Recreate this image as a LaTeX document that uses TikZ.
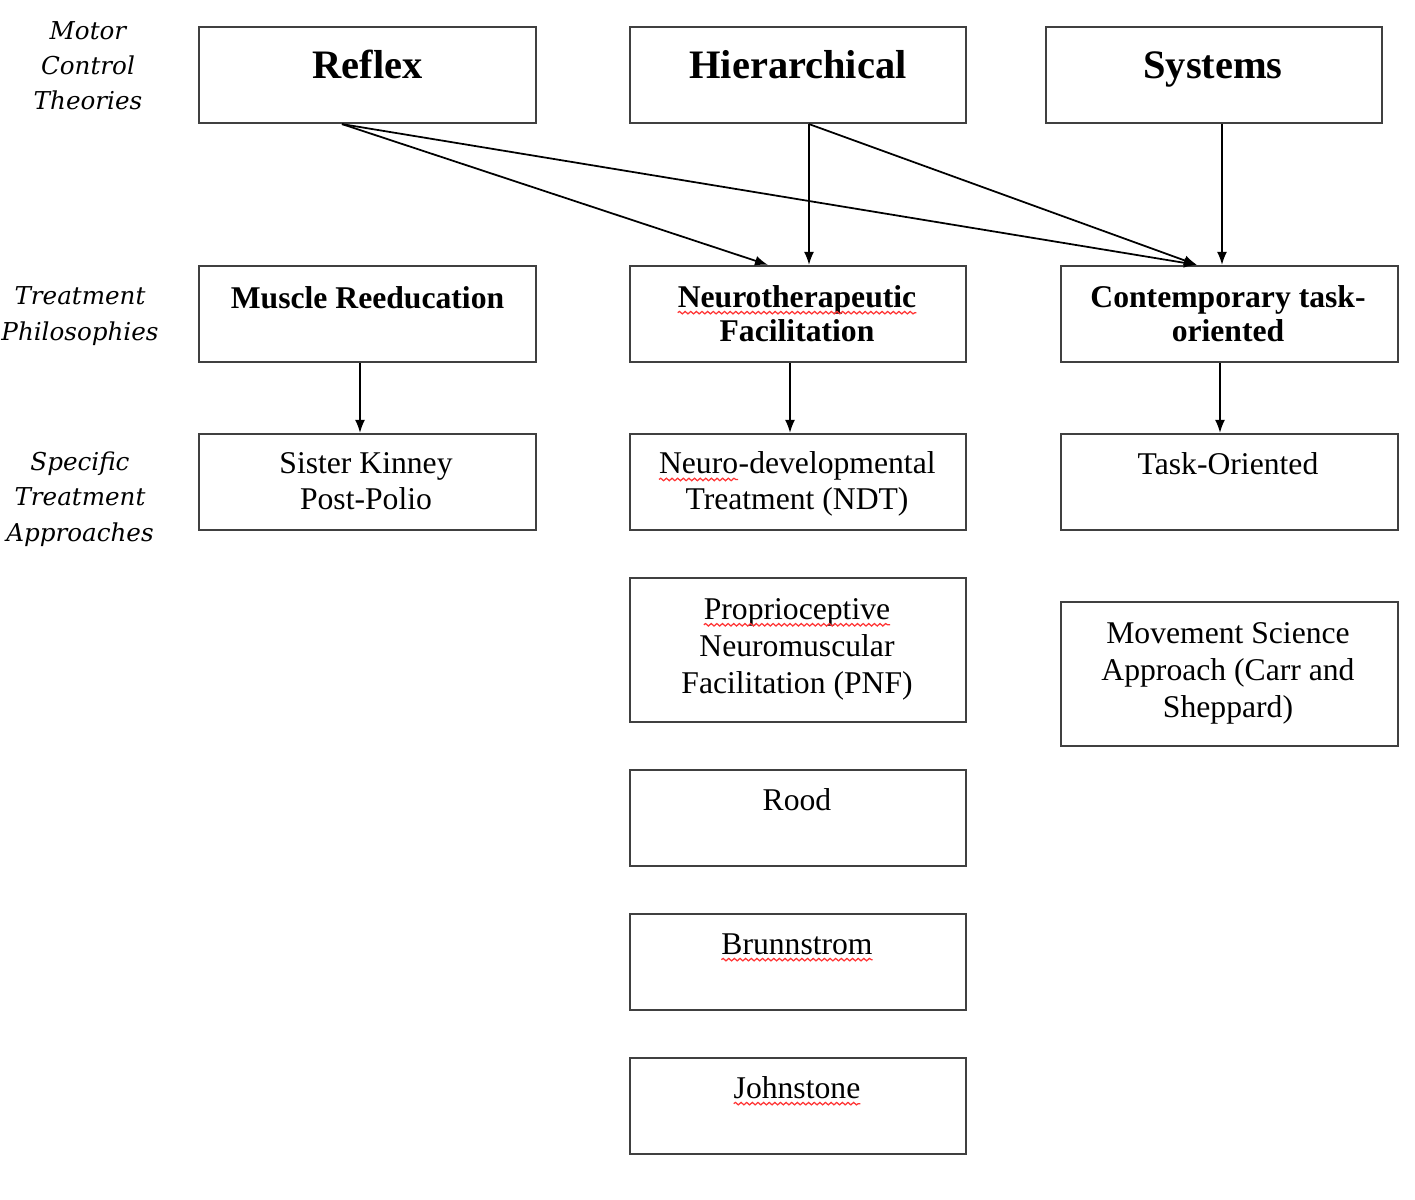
\documentclass[tikz,border=0pt]{standalone}
\usepackage{fontspec}
\usepackage{xcolor}
\setmainfont{Liberation Serif}
\newfontfamily\sidefont{DejaVu Serif}
\usetikzlibrary{arrows.meta,calc,positioning,decorations.pathmorphing}
\tikzset{%
	box/.style      = {draw=black!75, line width=0.6pt, rectangle, minimum width=3.36cm, minimum height=0.96cm, inner sep=0pt},
	tallbox/.style  = {box, minimum height=1.44cm},
	head/.style     = {anchor=base, inner sep=0pt, align=center, font=\fontsize{11.5}{13}\selectfont\bfseries},
	phil/.style     = {anchor=base, inner sep=0pt, align=center, font=\fontsize{9}{9.8}\selectfont\bfseries},
	approach/.style = {anchor=base, inner sep=0pt, align=center, font=\fontsize{9}{10}\selectfont},
	longer/.style   = {approach, font=\fontsize{9}{10.5}\selectfont},
	side/.style     = {anchor=base, inner sep=0pt, align=center, font=\sidefont\itshape\fontsize{7}{10}\selectfont},
	arrow/.style    = {line width=0.5pt, -{Latex[length=1.3mm, width=1mm]}},
	spell/.style    = {draw=red!80, line width=0.35pt, decorate, decoration={snake, amplitude=0.35pt, segment length=1.6pt}},
}
\newcommand{\spell}[1]{\tikz[baseline=(sp.base)]{\node[inner sep=0pt, outer sep=0pt, anchor=base, draw=none] (sp) {#1}; \draw[spell] ([yshift=-1.6pt]sp.base west) -- ([yshift=-1.6pt]sp.base east);}}

\begin{document}
\begin{tikzpicture}[x=0.01cm,y=-0.01cm]
	\useasboundingbox (0,0) rectangle (1415,1200);
	
	% row labels (base = last line)
	\node[side] (theories) at (88,110) {Motor\\Control\\Theories};
	\node[side] (philos)   at (80,340) {Treatment\\Philosophies};
	\node[side] (specific) at (80,541) {Specific\\Treatment\\Approaches};
	
	% theories
	\node[box] (reflex)  at (367.5,75) {};
	\node[box] (hier)    at (798,75)   {};
	\node[box] (systems) at (1214,75)  {};
	\node[head] (reflex-t)  at (367.5,78) {Reflex};
	\node[head] (hier-t)    at (798,78)   {Hierarchical};
	\node[head] (systems-t) at (1213,78)  {Systems};
	
	% philosophies
	\node[box] (muscle)  at (367.5,314)  {};
	\node[box] (neuro)   at (798,314)    {};
	\node[box] (contemp) at (1229.5,314) {};
	\node[phil] (muscle-t)  at (367.5,308) {Muscle Reeducation};
	\node[phil] (neuro-t)   at (797,341.5) {\spell{Neurotherapeutic}\\Facilitation};
	\node[phil] (contemp-t) at (1228,341.5) {Contemporary task-\\oriented};
	
	% approaches
	\node[box] (sister)  at (367.5,482)  {};
	\node[box] (ndt)     at (798,482)    {};
	\node[box] (task)    at (1229.5,482) {};
	\node[tallbox] (pnf)  at (798,650)    {};
	\node[tallbox] (move) at (1229.5,674) {};
	\node[box] (rood)    at (798,818)  {};
	\node[box] (brunn)   at (798,962)  {};
	\node[box] (john)    at (798,1106) {};
	\node[approach] (sister-t) at (366,509)  {Sister Kinney\\Post-Polio};
	\node[approach] (ndt-t)    at (797,509)  {\spell{Neuro}-developmental\\Treatment (NDT)};
	\node[approach] (task-t)   at (1228,474) {Task-Oriented};
	\node[longer]   (pnf-t)    at (797,693)  {\spell{Proprioceptive}\\Neuromuscular\\Facilitation (PNF)};
	\node[longer]   (move-t)   at (1228,717) {Movement Science\\Approach (Carr and\\Sheppard)};
	\node[approach] (rood-t)   at (797,810)  {Rood};
	\node[approach] (brunn-t)  at (797,954)  {\spell{Brunnstrom}};
	\node[approach] (john-t)   at (797,1098) {\spell{Johnstone}};
	
	% connectors
	\draw[arrow] ([xshift=-0.255cm]reflex.south) -- ([xshift=-0.3cm]neuro.north);
	\draw[arrow] ([xshift=-0.255cm]reflex.south) -- ([xshift=-0.325cm]contemp.north);
	\draw[arrow] ([xshift=0.11cm]hier.south) -- ([xshift=0.11cm]neuro.north);
	\draw[arrow] ([xshift=0.11cm]hier.south) -- ([xshift=-0.325cm]contemp.north);
	\draw[arrow] ([xshift=0.08cm]systems.south) -- ([xshift=-0.075cm]contemp.north);
	\draw[arrow] ([xshift=-0.075cm]muscle.south) -- ([xshift=-0.075cm]sister.north);
	\draw[arrow] ([xshift=-0.08cm]neuro.south) -- ([xshift=-0.08cm]ndt.north);
	\draw[arrow] ([xshift=-0.095cm]contemp.south) -- ([xshift=-0.095cm]task.north);
\end{tikzpicture}
\end{document}
